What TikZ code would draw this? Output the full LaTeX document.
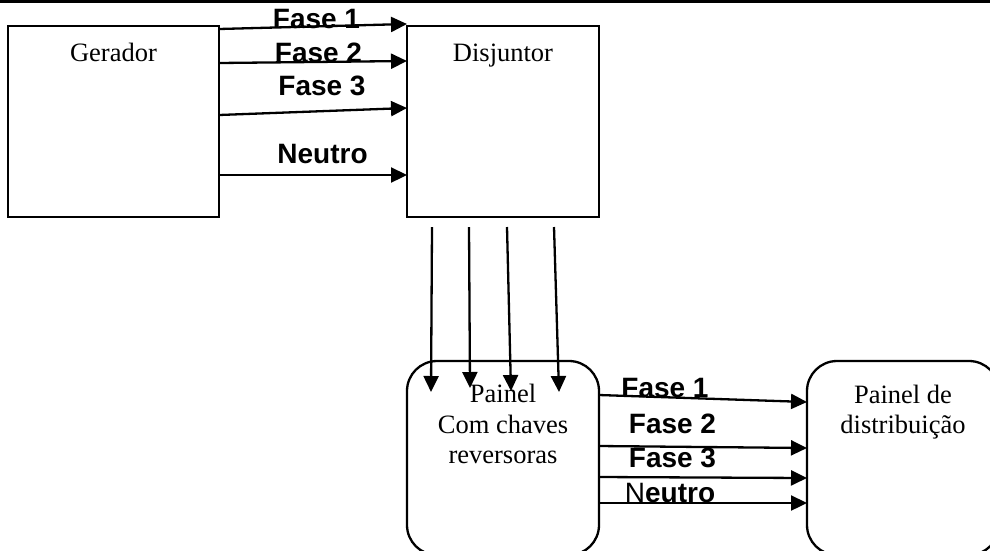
\documentclass[tikz,border=0pt]{standalone}
\usepackage{fontspec}
\setmainfont{Liberation Serif}
\newfontfamily\arialf{Liberation Sans}
\usetikzlibrary{arrows.meta,calc}
\tikzset{
  boxst/.style={draw, line width=2.3pt, inner sep=0pt, outer sep=0pt, minimum width=192pt, minimum height=191pt},
  rbox/.style={boxst, rounded corners=30pt, minimum height=194pt},
  txt/.style={inner sep=0pt, anchor=base, font=\fontsize{26.5}{30}\selectfont},
  lbl/.style={inner sep=0pt, anchor=base, font=\arialf\bfseries\fontsize{28}{30}\selectfont},
  arr/.style={line width=2.3pt, -{Triangle[length=16pt,width=15pt]}},
}
\begin{document}
\begin{tikzpicture}[x=1pt,y=-1pt]
\useasboundingbox (0,0) rectangle (990,550);
\clip (0,0) rectangle (990,550);
\fill[white] (0,0) rectangle (990,550);
% top bar
\draw[line width=2.8pt] (0,1.3) -- (990,1.3);
% boxes
\node[boxst, minimum width=211pt] (ger) at (113.5,121.5) {};
\node[boxst] (dis) at (503,121.5) {};
\node[rbox] (pan) at (503,458) {};
\node[rbox] (dist) at (903,458) {};
% box texts
\node[txt] (gerT) at (113.5,61) {Gerador};
\node[txt] (disT) at (503,61) {Disjuntor};
\node[txt] (panT1) at (503,402) {Painel};
\node[txt] (panT2) at (503,433) {Com chaves};
\node[txt] (panT3) at (503,463) {reversoras};
\node[txt] (distT1) at (903,403) {Painel de};
\node[txt] (distT2) at (903,433) {distribuição};
% upper arrows
\draw[arr] ($(ger.north east)+(0,3)$) -- ($(dis.north west)+(0,-2)$);
\draw[arr] ($(ger.north east)+(0,37)$) -- ($(dis.north west)+(0,35)$);
\draw[arr] ($(ger.north east)+(0,89)$) -- ($(dis.north west)+(0,82)$);
\draw[arr] ($(ger.north east)+(0,149)$) -- ($(dis.north west)+(0,149)$);
% upper labels
\node[lbl] (uF1) at (316.5,28) {Fase 1};
\node[lbl] (uF2) at (318.5,62) {Fase 2};
\node[lbl] (uF3) at (322,95) {Fase 3};
\node[lbl] (uN) at (322.5,163) {Neutro};
% vertical arrows
\draw[arr] ($(dis.south west)+(25,10)$) -- ($(pan.north west)+(24,31)$);
\draw[arr] ($(dis.south west)+(62,10)$) -- ($(pan.north west)+(63,27)$);
\draw[arr] ($(dis.south west)+(100,10)$) -- ($(pan.north west)+(104,30)$);
\draw[arr] ($(dis.south west)+(147,10)$) -- ($(pan.north west)+(152,31)$);
% lower arrows
\draw[arr] ($(pan.north east)+(0,34)$) -- ($(dist.north west)+(0,41)$);
\draw[arr] ($(pan.north east)+(0,85)$) -- ($(dist.north west)+(0,87)$);
\draw[arr] ($(pan.north east)+(0,116)$) -- ($(dist.north west)+(0,117)$);
\draw[arr] ($(pan.north east)+(0,142)$) -- ($(dist.north west)+(0,142)$);
% lower labels
\node[lbl] (lF1) at (665,397) {Fase 1};
\node[lbl] (lF2) at (672.5,433) {Fase 2};
\node[lbl] (lF3) at (672.5,467) {Fase 3};
\node[lbl] (lN) at (670,502) {{\mdseries N}eutro};
\end{tikzpicture}
\end{document}
